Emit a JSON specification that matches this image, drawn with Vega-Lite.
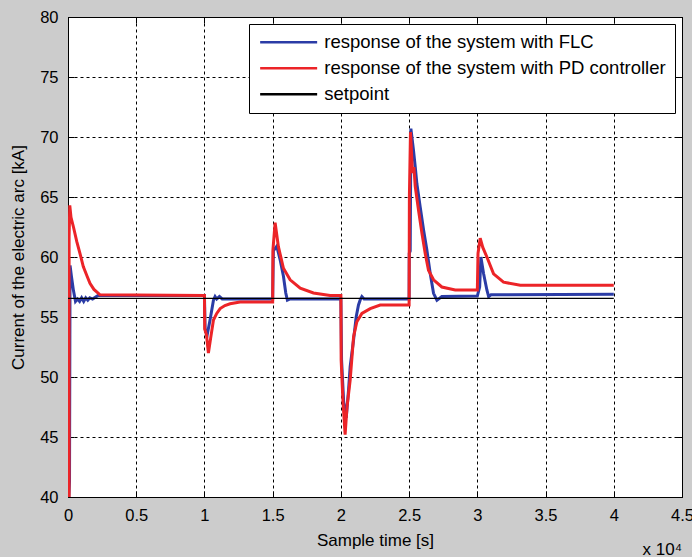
{
  "$schema": "https://vega.github.io/schema/vega-lite/v6.json",
  "width": 614,
  "height": 480,
  "autosize": "none",
  "padding": {"left": 68, "top": 17, "right": 10, "bottom": 60},
  "background": "#cccccc",
  "title": {"text": "x 10⁴", "orient": "bottom", "anchor": "end", "frame": "group", "fontSize": 17, "fontWeight": "normal", "font": "Liberation Sans", "color": "black", "offset": -7},
  "config": {
    "view": {"fill": "white", "stroke": "black", "strokeWidth": 1},
    "font": "Liberation Sans",
    "axis": {
      "labelFont": "Liberation Sans", "labelFontSize": 16.5, "labelColor": "black",
      "titleFont": "Liberation Sans", "titleFontSize": 17, "titleFontWeight": "normal", "titleColor": "black",
      "domain": false, "tickColor": "black", "tickSize": -6, "tickWidth": 1,
      "gridColor": "black", "gridDash": [3, 3], "gridOpacity": 1, "gridWidth": 1
    },
    "legend": {
      "orient": "top-right", "offset": 7, "fillColor": "white", "strokeColor": "black", "padding": 9,
      "labelFont": "Liberation Sans", "labelFontSize": 18.5, "labelColor": "black", "labelLimit": 600,
      "symbolType": "M-4,0H4", "symbolSize": 203, "symbolOffset": 21.4, "symbolStrokeWidth": 2.5, "rowPadding": 7, "labelOffset": 26.4, "title": null
    }
  },
  "datasets": {
    "curves": [
      {"t": 60, "v": 40.0, "s": "response of the system with FLC"},
      {"t": 110, "v": 41.3, "s": "response of the system with FLC"},
      {"t": 150, "v": 59.3, "s": "response of the system with FLC"},
      {"t": 250, "v": 58.4, "s": "response of the system with FLC"},
      {"t": 400, "v": 57.2, "s": "response of the system with FLC"},
      {"t": 550, "v": 56.3, "s": "response of the system with FLC"},
      {"t": 700, "v": 56.5, "s": "response of the system with FLC"},
      {"t": 850, "v": 56.3, "s": "response of the system with FLC"},
      {"t": 1000, "v": 56.6, "s": "response of the system with FLC"},
      {"t": 1150, "v": 56.3, "s": "response of the system with FLC"},
      {"t": 1300, "v": 56.6, "s": "response of the system with FLC"},
      {"t": 1450, "v": 56.4, "s": "response of the system with FLC"},
      {"t": 1600, "v": 56.6, "s": "response of the system with FLC"},
      {"t": 1800, "v": 56.5, "s": "response of the system with FLC"},
      {"t": 2200, "v": 56.8, "s": "response of the system with FLC"},
      {"t": 10000, "v": 56.8, "s": "response of the system with FLC"},
      {"t": 10050, "v": 54.0, "s": "response of the system with FLC"},
      {"t": 10200, "v": 53.5, "s": "response of the system with FLC"},
      {"t": 10410, "v": 54.75, "s": "response of the system with FLC"},
      {"t": 10540, "v": 55.6, "s": "response of the system with FLC"},
      {"t": 10660, "v": 56.4, "s": "response of the system with FLC"},
      {"t": 10780, "v": 56.7, "s": "response of the system with FLC"},
      {"t": 10900, "v": 56.5, "s": "response of the system with FLC"},
      {"t": 11100, "v": 56.7, "s": "response of the system with FLC"},
      {"t": 11300, "v": 56.5, "s": "response of the system with FLC"},
      {"t": 15000, "v": 56.5, "s": "response of the system with FLC"},
      {"t": 15050, "v": 60.5, "s": "response of the system with FLC"},
      {"t": 15300, "v": 60.9, "s": "response of the system with FLC"},
      {"t": 15550, "v": 59.75, "s": "response of the system with FLC"},
      {"t": 15790, "v": 58.4, "s": "response of the system with FLC"},
      {"t": 15960, "v": 57.0, "s": "response of the system with FLC"},
      {"t": 16080, "v": 56.4, "s": "response of the system with FLC"},
      {"t": 16280, "v": 56.5, "s": "response of the system with FLC"},
      {"t": 20000, "v": 56.5, "s": "response of the system with FLC"},
      {"t": 20050, "v": 51.4, "s": "response of the system with FLC"},
      {"t": 20200, "v": 48.0, "s": "response of the system with FLC"},
      {"t": 20390, "v": 46.6, "s": "response of the system with FLC"},
      {"t": 20560, "v": 48.9, "s": "response of the system with FLC"},
      {"t": 20680, "v": 50.86, "s": "response of the system with FLC"},
      {"t": 20930, "v": 53.1, "s": "response of the system with FLC"},
      {"t": 21120, "v": 55.0, "s": "response of the system with FLC"},
      {"t": 21290, "v": 56.0, "s": "response of the system with FLC"},
      {"t": 21410, "v": 56.4, "s": "response of the system with FLC"},
      {"t": 21540, "v": 56.7, "s": "response of the system with FLC"},
      {"t": 21700, "v": 56.5, "s": "response of the system with FLC"},
      {"t": 25000, "v": 56.5, "s": "response of the system with FLC"},
      {"t": 25010, "v": 60.3, "s": "response of the system with FLC"},
      {"t": 25080, "v": 60.5, "s": "response of the system with FLC"},
      {"t": 25130, "v": 70.7, "s": "response of the system with FLC"},
      {"t": 25320, "v": 68.9, "s": "response of the system with FLC"},
      {"t": 25450, "v": 67.5, "s": "response of the system with FLC"},
      {"t": 25570, "v": 66.1, "s": "response of the system with FLC"},
      {"t": 25810, "v": 64.2, "s": "response of the system with FLC"},
      {"t": 26060, "v": 62.25, "s": "response of the system with FLC"},
      {"t": 26300, "v": 60.6, "s": "response of the system with FLC"},
      {"t": 26550, "v": 58.6, "s": "response of the system with FLC"},
      {"t": 26790, "v": 56.97, "s": "response of the system with FLC"},
      {"t": 27040, "v": 56.4, "s": "response of the system with FLC"},
      {"t": 27400, "v": 56.7, "s": "response of the system with FLC"},
      {"t": 30000, "v": 56.75, "s": "response of the system with FLC"},
      {"t": 30170, "v": 57.5, "s": "response of the system with FLC"},
      {"t": 30260, "v": 60.0, "s": "response of the system with FLC"},
      {"t": 30460, "v": 58.6, "s": "response of the system with FLC"},
      {"t": 30700, "v": 57.25, "s": "response of the system with FLC"},
      {"t": 30830, "v": 56.7, "s": "response of the system with FLC"},
      {"t": 31000, "v": 56.85, "s": "response of the system with FLC"},
      {"t": 40000, "v": 56.9, "s": "response of the system with FLC"},
      {"t": 80, "v": 40.0, "s": "response of the system with PD controller"},
      {"t": 80, "v": 61.7, "s": "response of the system with PD controller"},
      {"t": 130, "v": 64.3, "s": "response of the system with PD controller"},
      {"t": 220, "v": 63.3, "s": "response of the system with PD controller"},
      {"t": 400, "v": 62.5, "s": "response of the system with PD controller"},
      {"t": 640, "v": 61.3, "s": "response of the system with PD controller"},
      {"t": 900, "v": 60.2, "s": "response of the system with PD controller"},
      {"t": 1120, "v": 59.2, "s": "response of the system with PD controller"},
      {"t": 1400, "v": 58.4, "s": "response of the system with PD controller"},
      {"t": 1610, "v": 57.8, "s": "response of the system with PD controller"},
      {"t": 1900, "v": 57.3, "s": "response of the system with PD controller"},
      {"t": 2350, "v": 56.85, "s": "response of the system with PD controller"},
      {"t": 10000, "v": 56.8, "s": "response of the system with PD controller"},
      {"t": 10020, "v": 54.0, "s": "response of the system with PD controller"},
      {"t": 10150, "v": 53.5, "s": "response of the system with PD controller"},
      {"t": 10290, "v": 52.0, "s": "response of the system with PD controller"},
      {"t": 10450, "v": 53.2, "s": "response of the system with PD controller"},
      {"t": 10660, "v": 54.75, "s": "response of the system with PD controller"},
      {"t": 10900, "v": 55.3, "s": "response of the system with PD controller"},
      {"t": 11150, "v": 55.7, "s": "response of the system with PD controller"},
      {"t": 11500, "v": 55.95, "s": "response of the system with PD controller"},
      {"t": 11880, "v": 56.1, "s": "response of the system with PD controller"},
      {"t": 12610, "v": 56.25, "s": "response of the system with PD controller"},
      {"t": 15000, "v": 56.25, "s": "response of the system with PD controller"},
      {"t": 15020, "v": 60.6, "s": "response of the system with PD controller"},
      {"t": 15180, "v": 62.86, "s": "response of the system with PD controller"},
      {"t": 15420, "v": 60.86, "s": "response of the system with PD controller"},
      {"t": 15790, "v": 59.06, "s": "response of the system with PD controller"},
      {"t": 16280, "v": 58.1, "s": "response of the system with PD controller"},
      {"t": 17020, "v": 57.4, "s": "response of the system with PD controller"},
      {"t": 17990, "v": 57.0, "s": "response of the system with PD controller"},
      {"t": 19210, "v": 56.8, "s": "response of the system with PD controller"},
      {"t": 20000, "v": 56.8, "s": "response of the system with PD controller"},
      {"t": 20020, "v": 51.4, "s": "response of the system with PD controller"},
      {"t": 20150, "v": 48.0, "s": "response of the system with PD controller"},
      {"t": 20310, "v": 45.2, "s": "response of the system with PD controller"},
      {"t": 20450, "v": 47.5, "s": "response of the system with PD controller"},
      {"t": 20680, "v": 49.75, "s": "response of the system with PD controller"},
      {"t": 20930, "v": 53.36, "s": "response of the system with PD controller"},
      {"t": 21170, "v": 54.6, "s": "response of the system with PD controller"},
      {"t": 21540, "v": 55.3, "s": "response of the system with PD controller"},
      {"t": 22150, "v": 55.7, "s": "response of the system with PD controller"},
      {"t": 22880, "v": 56.0, "s": "response of the system with PD controller"},
      {"t": 25000, "v": 56.0, "s": "response of the system with PD controller"},
      {"t": 25020, "v": 65.0, "s": "response of the system with PD controller"},
      {"t": 25100, "v": 70.4, "s": "response of the system with PD controller"},
      {"t": 25250, "v": 67.0, "s": "response of the system with PD controller"},
      {"t": 25350, "v": 67.5, "s": "response of the system with PD controller"},
      {"t": 25450, "v": 65.86, "s": "response of the system with PD controller"},
      {"t": 25690, "v": 63.9, "s": "response of the system with PD controller"},
      {"t": 25940, "v": 61.97, "s": "response of the system with PD controller"},
      {"t": 26180, "v": 60.3, "s": "response of the system with PD controller"},
      {"t": 26420, "v": 58.9, "s": "response of the system with PD controller"},
      {"t": 26790, "v": 58.1, "s": "response of the system with PD controller"},
      {"t": 27400, "v": 57.5, "s": "response of the system with PD controller"},
      {"t": 28380, "v": 57.25, "s": "response of the system with PD controller"},
      {"t": 30000, "v": 57.25, "s": "response of the system with PD controller"},
      {"t": 30050, "v": 60.3, "s": "response of the system with PD controller"},
      {"t": 30210, "v": 61.56, "s": "response of the system with PD controller"},
      {"t": 30400, "v": 60.8, "s": "response of the system with PD controller"},
      {"t": 30700, "v": 60.0, "s": "response of the system with PD controller"},
      {"t": 31190, "v": 58.6, "s": "response of the system with PD controller"},
      {"t": 31920, "v": 57.9, "s": "response of the system with PD controller"},
      {"t": 33150, "v": 57.65, "s": "response of the system with PD controller"},
      {"t": 40000, "v": 57.65, "s": "response of the system with PD controller"}
    ],
    "setpoint": [
      {"t": 0, "v": 56.55, "s": "setpoint"},
      {"t": 40000, "v": 56.55, "s": "setpoint"}
    ]
  },
  "resolve": {"axis": {"x": "independent", "y": "independent"}},
  "layer": [
    {
      "data": {"name": "curves"},
      "mark": {"type": "line", "strokeWidth": 3, "clip": true},
      "encoding": {
        "x": {"field": "t", "type": "quantitative", "scale": {"domain": [0, 45000], "nice": false, "zero": false},
              "axis": {"orient": "bottom", "values": [0, 5000, 10000, 15000, 20000, 25000, 30000, 35000, 40000, 45000], "labelExpr": "datum.value / 10000 + ''", "title": "Sample time [s]", "labelPadding": 16, "titlePadding": 9, "grid": true, "labelFlush": false}},
        "y": {"field": "v", "type": "quantitative", "scale": {"domain": [40, 80], "nice": false, "zero": false},
              "axis": {"orient": "left", "values": [40, 45, 50, 55, 60, 65, 70, 75, 80], "title": "Current of the electric arc [kA]", "labelPadding": 16, "titlePadding": 12, "grid": true}},
        "color": {"field": "s", "type": "nominal", "scale": {"domain": ["response of the system with FLC", "response of the system with PD controller", "setpoint"], "range": ["#2b3ca6", "#ec2428", "#000000"]}},
        "order": {"field": "t", "type": "quantitative"},
        "detail": {"field": "s"}
      }
    },
    {
      "data": {"name": "setpoint"},
      "mark": {"type": "line", "strokeWidth": 1.3},
      "encoding": {
        "x": {"field": "t", "type": "quantitative", "axis": {"orient": "top", "values": [0, 5000, 10000, 15000, 20000, 25000, 30000, 35000, 40000, 45000], "labels": false, "title": null, "grid": false}},
        "y": {"field": "v", "type": "quantitative", "axis": {"orient": "right", "values": [40, 45, 50, 55, 60, 65, 70, 75, 80], "labels": false, "title": null, "grid": false}},
        "color": {"field": "s", "type": "nominal"}
      }
    }
  ]
}
